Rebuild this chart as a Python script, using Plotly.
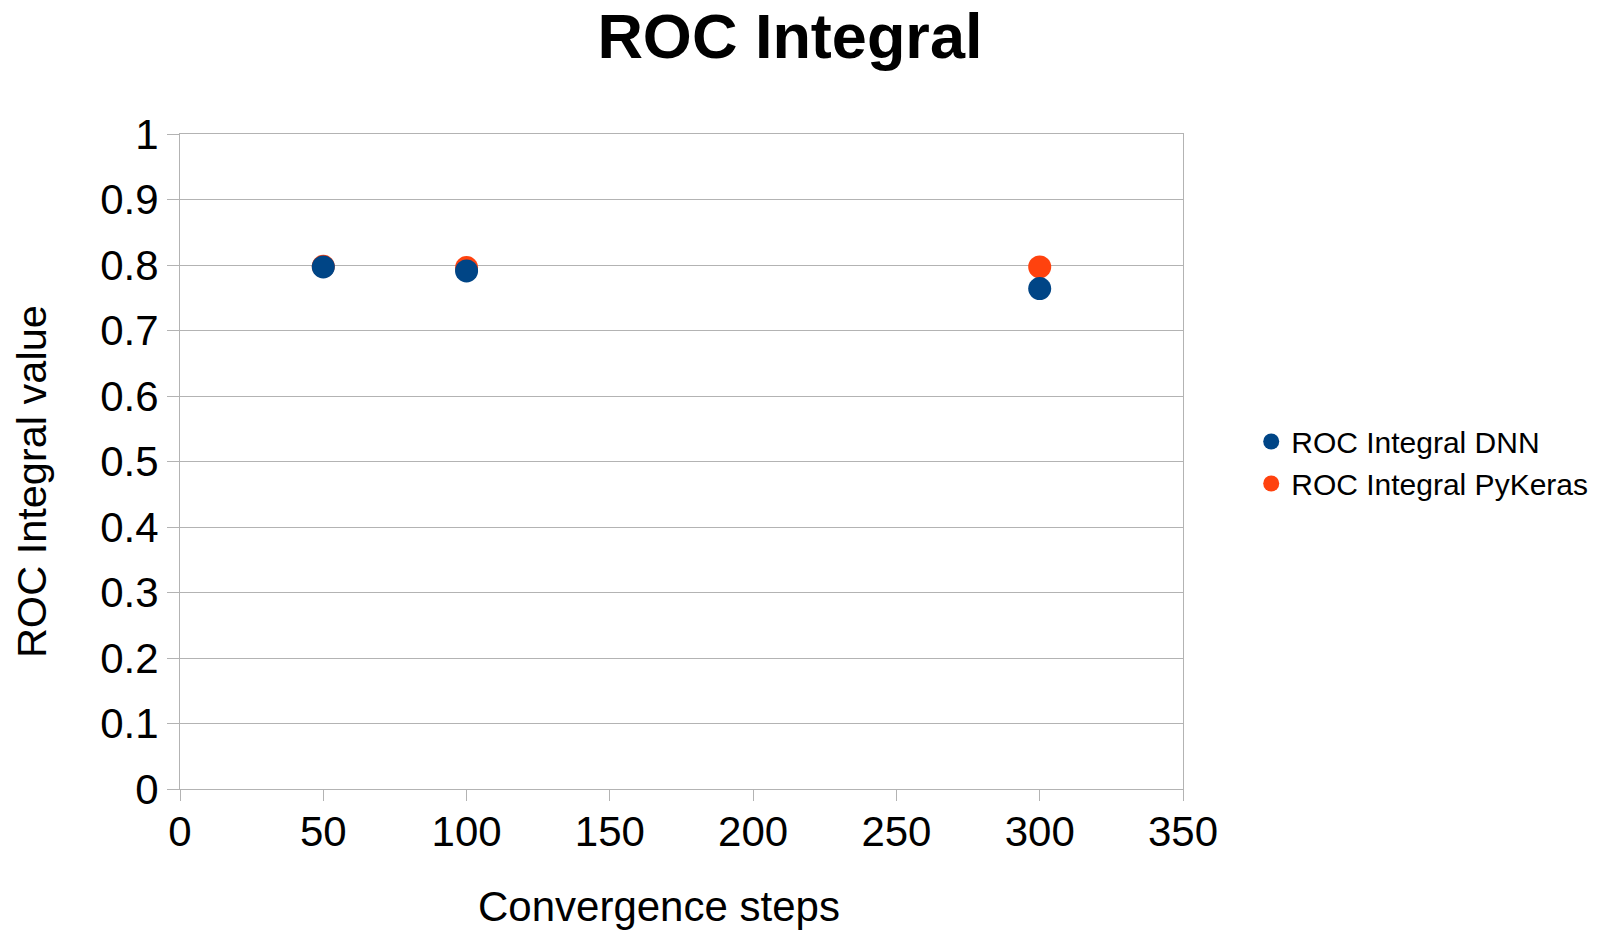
import plotly.graph_objects as go

# Convergence steps and ROC integral values for each method
steps = [50, 100, 300]
roc_dnn = [0.797, 0.791, 0.764]
roc_pykeras = [0.798, 0.796, 0.797]

x_ticks = [0, 50, 100, 150, 200, 250, 300, 350]
y_ticks = [0, 0.1, 0.2, 0.3, 0.4, 0.5, 0.6, 0.7, 0.8, 0.9, 1]

BLUE = "#004586"
ORANGE = "#ff420e"
GRID = "#b3b3b3"
FONT = "Liberation Sans"

fig = go.Figure()

# PyKeras first so the DNN markers sit on top where they overlap
fig.add_trace(go.Scatter(
    x=steps, y=roc_pykeras, mode="markers", name="ROC Integral PyKeras",
    marker=dict(color=ORANGE, size=23, line=dict(width=0)), legendrank=2,
))
fig.add_trace(go.Scatter(
    x=steps, y=roc_dnn, mode="markers", name="ROC Integral DNN",
    marker=dict(color=BLUE, size=23, line=dict(width=0)), legendrank=1,
))

fig.update_layout(
    width=1599, height=934,
    margin=dict(l=180, r=416, t=134, b=145, autoexpand=False),
    paper_bgcolor="white", plot_bgcolor="white",
    font=dict(family=FONT, color="black"),
    title=dict(
        text="ROC Integral", font=dict(size=63, family=FONT, weight="bold"),
        x=0.494, xref="container", y=0.961, yref="container",
        xanchor="center", yanchor="middle",
    ),
    showlegend=True,
    legend=dict(
        x=0.7825, xref="container", y=0.4985, xanchor="left", yanchor="middle",
        font=dict(size=30, family=FONT), bgcolor="rgba(0,0,0,0)",
        itemsizing="trace",
    ),
    annotations=[
        dict(text="Convergence steps", xref="paper", yref="paper",
             x=0.4776, y=-0.1794, xanchor="center", yanchor="middle",
             showarrow=False, font=dict(size=42, family=FONT)),
        dict(text="ROC Integral value", xref="paper", yref="paper",
             x=-0.1486, y=0.4700, xanchor="center", yanchor="middle",
             textangle=-90, showarrow=False, font=dict(size=41.5, family=FONT)),
    ],
)

fig.update_xaxes(
    range=[0, 350], tickvals=x_ticks, ticks="outside", ticklen=11,
    tickcolor=GRID, tickwidth=1, showgrid=False, zeroline=False,
    showline=True, linecolor=GRID, linewidth=1, mirror=True,
    tickfont=dict(size=42, family=FONT), ticklabelstandoff=-5,
)
fig.update_yaxes(
    range=[0, 1], tickvals=y_ticks, ticks="outside", ticklen=12,
    tickcolor=GRID, tickwidth=1, showgrid=True, gridcolor=GRID, gridwidth=1,
    zeroline=False, showline=True, linecolor=GRID, linewidth=1, mirror=True,
    tickfont=dict(size=42, family=FONT),
)

fig.write_html("out.html")
